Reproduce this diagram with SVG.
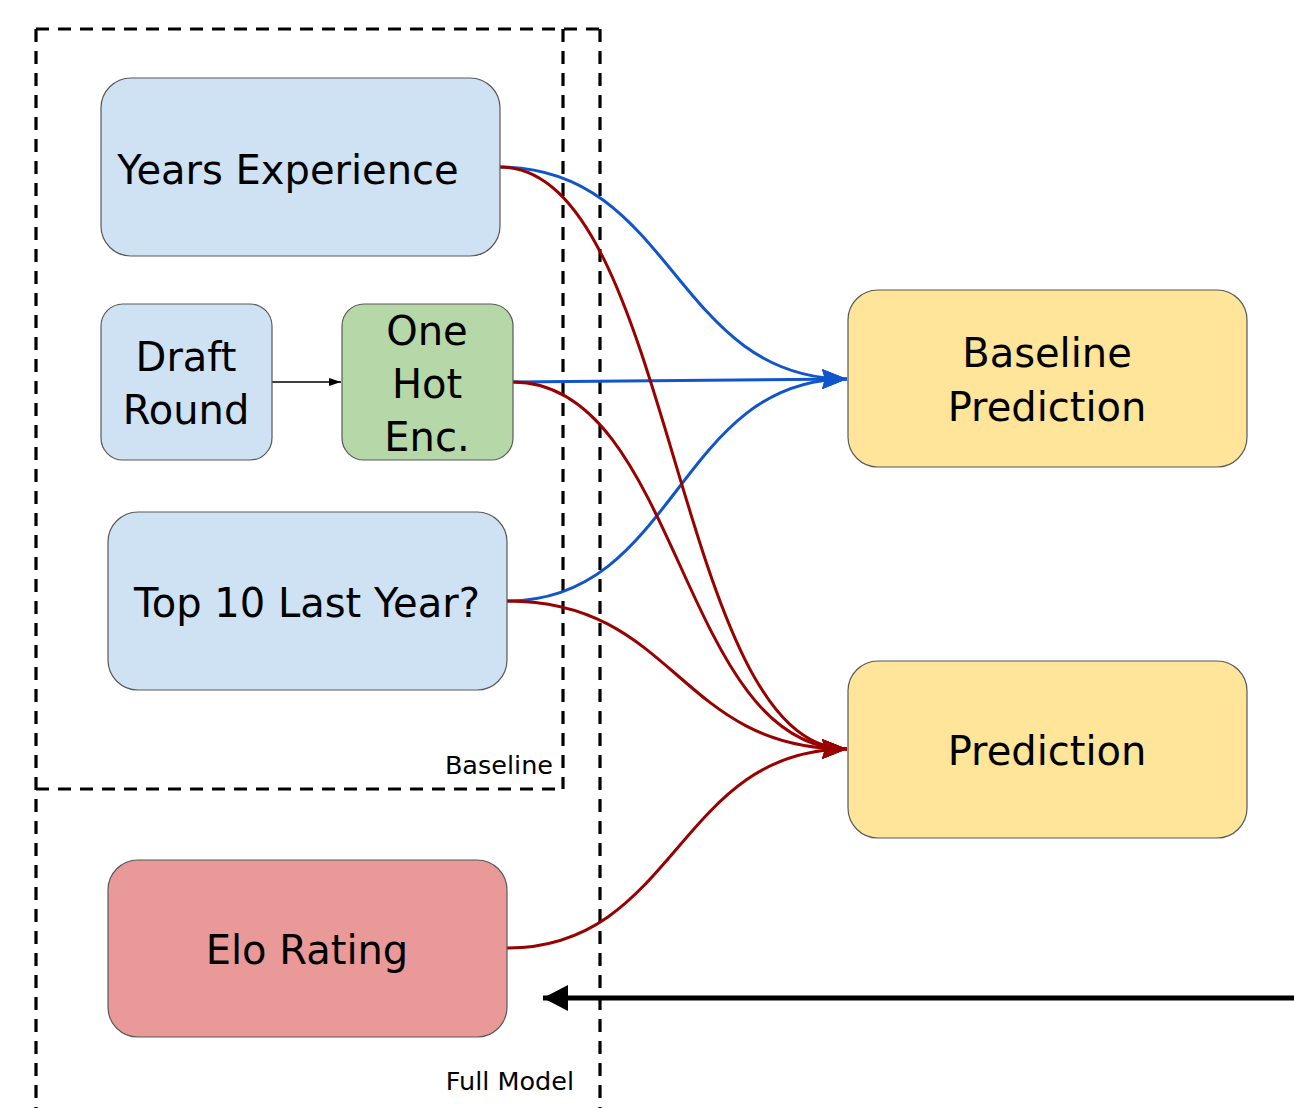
<svg xmlns="http://www.w3.org/2000/svg" width="1294" height="1108" viewBox="0 0 1294 1108">
  <style>
    .node { stroke: #595959; stroke-width: 1.2; }
    .blue { fill: #cfe2f3; }
    .green { fill: #b6d7a8; }
    .yellow { fill: #ffe599; }
    .red { fill: #ea9999; }
    .label { font-family: "DejaVu Sans", sans-serif; font-size: 40px; fill: #000; text-anchor: middle; }
    .group-label { font-family: "DejaVu Sans", sans-serif; font-size: 25.5px; fill: #000; text-anchor: end; }
    .frame { fill: none; stroke: #000; stroke-width: 3.2; stroke-dasharray: 13 9; }
    .c-blue { fill: none; stroke: #1155cc; stroke-width: 3; }
    .c-red { fill: none; stroke: #990000; stroke-width: 3; }
  </style>
  <defs>
    <marker id="arrow-blue" viewBox="0 0 25 20" refX="25" refY="10" markerWidth="25" markerHeight="20" markerUnits="userSpaceOnUse" orient="auto">
      <path d="M0,0 L25,10 L0,20 L3,10 z" fill="#1155cc"/>
    </marker>
    <marker id="arrow-red" viewBox="0 0 25 20" refX="25" refY="10" markerWidth="25" markerHeight="20" markerUnits="userSpaceOnUse" orient="auto">
      <path d="M0,0 L25,10 L0,20 L3,10 z" fill="#990000"/>
    </marker>
    <marker id="arrow-small" viewBox="0 0 12 8" refX="12" refY="4" markerWidth="12" markerHeight="8" markerUnits="userSpaceOnUse" orient="auto">
      <path d="M0,0 L12,4 L0,8 z" fill="#000"/>
    </marker>
    <marker id="arrow-big" viewBox="0 0 25 26" refX="25" refY="13" markerWidth="25" markerHeight="26" markerUnits="userSpaceOnUse" orient="auto">
      <path d="M0,0 L25,13 L0,26 z" fill="#000"/>
    </marker>
  </defs>

  <rect width="1294" height="1108" fill="#fff"/>

  <!-- grouping frames: outer "Full Model", inner "Baseline" -->
  <g id="frames">
    <path class="frame" d="M36,29 L600,29"/>
    <path class="frame" d="M36,29 L36,1108"/>
    <path class="frame" d="M600,29 L600,1108"/>
    <path class="frame" d="M563,29 L563,789"/>
    <path class="frame" d="M36,789 L563,789"/>
    <text class="group-label" x="553" y="774">Baseline</text>
    <text class="group-label" x="574" y="1090">Full Model</text>
  </g>

  <!-- connectors -->
  <g id="connectors">
    <path class="c-blue" d="M500,167 C674,167 674,379 847,379" marker-end="url(#arrow-blue)"/>
    <path class="c-blue" d="M513,382 L847,379" marker-end="url(#arrow-blue)"/>
    <path class="c-blue" d="M507,601 C677,601 677,379 847,379" marker-end="url(#arrow-blue)"/>
    <path class="c-red" d="M500,167 C674,167 674,749 847,749" marker-end="url(#arrow-red)"/>
    <path class="c-red" d="M513,382 C680,382 680,749 847,749" marker-end="url(#arrow-red)"/>
    <path class="c-red" d="M507,601 C677,601 677,749 847,749" marker-end="url(#arrow-red)"/>
    <path class="c-red" d="M507,948 C677,948 677,749 847,749" marker-end="url(#arrow-red)"/>
    <path d="M272,382 L341,382" stroke="#000" stroke-width="1.3" fill="none" marker-end="url(#arrow-small)"/>
    <path d="M1294,998 L543,998" stroke="#000" stroke-width="5" fill="none" marker-end="url(#arrow-big)"/>
  </g>

  <!-- nodes -->
  <g id="years-experience">
    <rect class="node blue" x="101" y="78" width="399" height="178" rx="30"/>
    <text class="label" x="288" y="184">Years Experience</text>
  </g>
  <g id="draft-round">
    <rect class="node blue" x="101" y="304" width="171" height="156" rx="22"/>
    <text class="label" x="186" y="371">Draft</text>
    <text class="label" x="186" y="424">Round</text>
  </g>
  <g id="one-hot-enc">
    <rect class="node green" x="342" y="304" width="171" height="156" rx="22"/>
    <text class="label" x="427" y="345">One</text>
    <text class="label" x="427" y="398">Hot</text>
    <text class="label" x="427" y="451">Enc.</text>
  </g>
  <g id="top-10-last-year">
    <rect class="node blue" x="108" y="512" width="399" height="178" rx="30"/>
    <text class="label" x="307" y="617">Top 10 Last Year?</text>
  </g>
  <g id="elo-rating">
    <rect class="node red" x="108" y="860" width="399" height="177" rx="30"/>
    <text class="label" x="307" y="964">Elo Rating</text>
  </g>
  <g id="baseline-prediction">
    <rect class="node yellow" x="848" y="290" width="399" height="177" rx="30"/>
    <text class="label" x="1047" y="367">Baseline</text>
    <text class="label" x="1047" y="421">Prediction</text>
  </g>
  <g id="prediction">
    <rect class="node yellow" x="848" y="661" width="399" height="177" rx="30"/>
    <text class="label" x="1047" y="765">Prediction</text>
  </g>
</svg>
